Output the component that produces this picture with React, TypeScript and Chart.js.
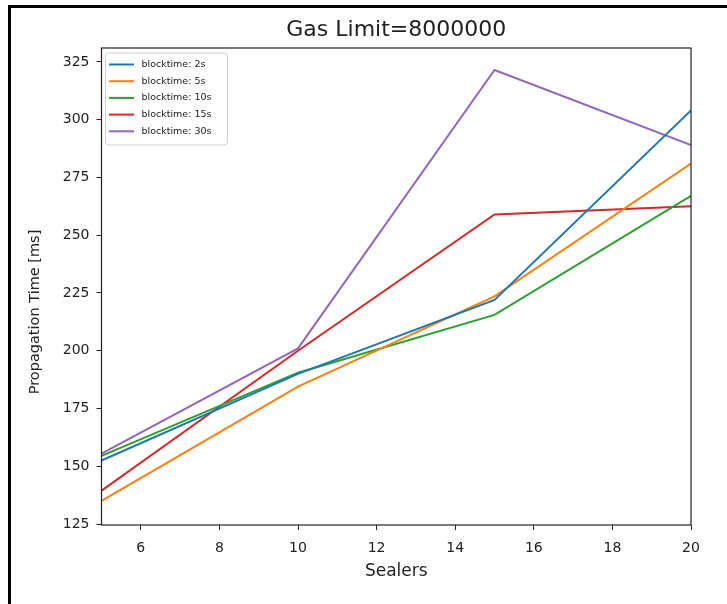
import React, { useEffect, useRef } from "react";
import { Chart, registerables } from "chart.js";

Chart.register(...registerables);

const sealers = [5, 10, 15, 20];
const blocktime2s = [152.5, 190, 222, 304];
const blocktime5s = [135, 184.5, 223.5, 281];
const blocktime10s = [154.5, 190.5, 215.5, 267];
const blocktime15s = [139.5, 200, 259, 262.5];
const blocktime30s = [155.5, 201, 321.5, 289];

const seriesLabels = ["blocktime: 2s", "blocktime: 5s", "blocktime: 10s", "blocktime: 15s", "blocktime: 30s"];
const seriesColors = ["#1f77b4", "#ff7f0e", "#2ca02c", "#d62728", "#9467bd"];
const xTickValues = [6, 8, 10, 12, 14, 16, 18, 20];
const yTickValues = [125, 150, 175, 200, 225, 250, 275, 300, 325];

const chartTitle = "Gas Limit=8000000";
const xTitle = "Sealers";
const yTitle = "Propagation Time [ms]";

const FONT = "'DejaVu Sans', sans-serif";

const framePlugin = {
  id: "frameTitleLegend",
  afterDatasetsDraw(chart: any) {
    const { ctx, chartArea } = chart;
    const { left, right, top, bottom } = chartArea;
    ctx.save();
    // plot frame
    ctx.strokeStyle = "#222";
    ctx.lineWidth = 1.2;
    ctx.strokeRect(left, top, right - left, bottom - top);

    // legend
    const lx = left + 4;
    const ly = top + 5;
    const lw = 122;
    const lh = 92;
    ctx.fillStyle = "rgba(255,255,255,0.85)";
    ctx.strokeStyle = "#d0d0d0";
    ctx.lineWidth = 1;
    ctx.beginPath();
    (ctx as any).roundRect(lx, ly, lw, lh, 3);
    ctx.fill();
    ctx.stroke();
    ctx.font = `9.5px ${FONT}`;
    ctx.textBaseline = "middle";
    ctx.textAlign = "left";
    chart.data.datasets.forEach((ds: any, i: number) => {
      const ry = ly + 11.5 + i * 16.7;
      ctx.strokeStyle = ds.borderColor;
      ctx.lineWidth = 2;
      ctx.beginPath();
      ctx.moveTo(lx + 3.5, ry);
      ctx.lineTo(lx + 28.5, ry);
      ctx.stroke();
      ctx.fillStyle = "#222";
      ctx.fillText(ds.label, lx + 36, ry);
    });

    // title
    ctx.font = `22px ${FONT}`;
    ctx.fillStyle = "#222";
    ctx.textAlign = "center";
    ctx.textBaseline = "middle";
    ctx.fillText(chartTitle, (left + right) / 2, 30);

    // y axis title
    ctx.save();
    ctx.translate(35, 312);
    ctx.rotate(-Math.PI / 2);
    ctx.font = `14.5px ${FONT}`;
    ctx.fillText(yTitle, 0, 0);
    ctx.restore();
    ctx.restore();
  },
};

export default function App() {
  const canvasRef = useRef<HTMLCanvasElement | null>(null);

  useEffect(() => {
    if (!canvasRef.current) return;
    const allSeries = [blocktime2s, blocktime5s, blocktime10s, blocktime15s, blocktime30s];
    const chart = new Chart(canvasRef.current, {
      type: "line",
      data: {
        datasets: allSeries.map((s, i) => ({
          label: seriesLabels[i],
          data: sealers.map((x, j) => ({ x, y: s[j] })),
          borderColor: seriesColors[i],
          backgroundColor: seriesColors[i],
          borderWidth: 2,
          pointRadius: 0,
          tension: 0,
          fill: false,
        })),
      },
      options: {
        animation: false,
        responsive: false,
        maintainAspectRatio: false,
        layout: { padding: { left: 0, right: 36, top: 48, bottom: 0 } },
        plugins: {
          legend: { display: false },
          title: { display: false },
          tooltip: { enabled: false },
        },
        scales: {
          x: {
            type: "linear",
            min: 5,
            max: 20,
            afterBuildTicks: (scale: any) => {
              scale.ticks = xTickValues.map((v) => ({ value: v }));
            },
            afterFit: (scale: any) => {
              scale.height = 79;
            },
            border: { display: false },
            grid: { drawOnChartArea: false, drawTicks: true, tickLength: 5, color: "#222", lineWidth: 1 },
            ticks: { color: "#222", font: { family: FONT, size: 14 }, padding: 10, maxRotation: 0, autoSkip: false },
            title: { display: true, text: xTitle, color: "#222", font: { family: FONT, size: 17 }, padding: { top: 0, bottom: 22 } },
          },
          y: {
            type: "linear",
            min: 124.6,
            max: 331,
            afterBuildTicks: (scale: any) => {
              scale.ticks = yTickValues.map((v) => ({ value: v }));
            },
            afterFit: (scale: any) => {
              scale.width = 101.5;
            },
            border: { display: false },
            grid: { drawOnChartArea: false, drawTicks: true, tickLength: 5, color: "#222", lineWidth: 1 },
            ticks: { color: "#222", font: { family: FONT, size: 14 }, padding: 7, autoSkip: false },
            title: { display: false },
          },
        },
      },
      plugins: [framePlugin],
    });
    return () => chart.destroy();
  }, []);

  return (
    <div style={{ position: "fixed", left: 0, top: 0, width: 727, height: 604, background: "#fff" }}>
      <div
        style={{
          position: "absolute",
          left: 8,
          top: 5,
          width: 716,
          height: 600,
          borderLeft: "3px solid #000",
          borderTop: "3px solid #000",
        }}
      />
      <canvas ref={canvasRef} width={727} height={604} style={{ position: "absolute", left: 0, top: 0 }} />
    </div>
  );
}
